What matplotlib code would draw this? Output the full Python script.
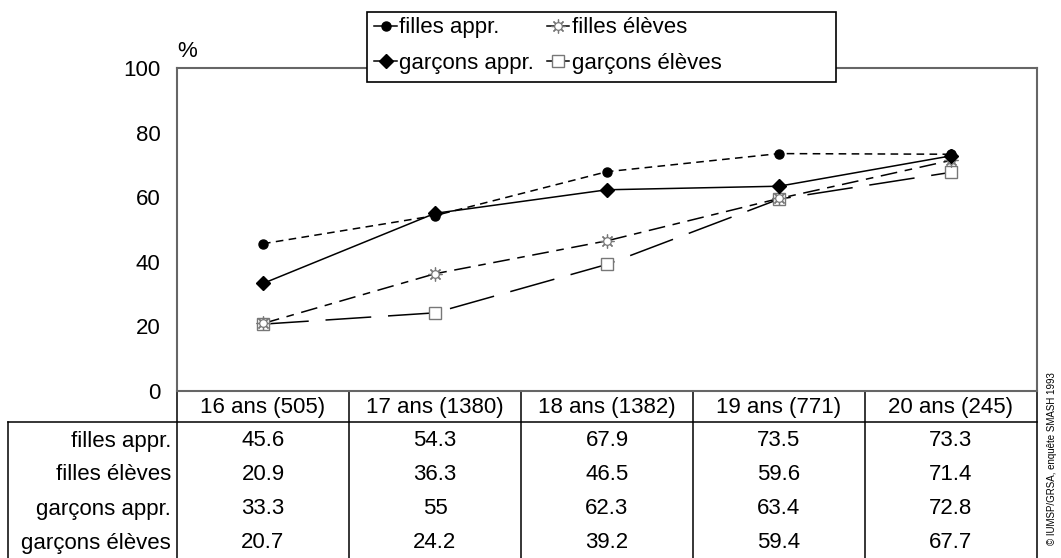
import matplotlib
matplotlib.use("Agg")
import matplotlib.pyplot as plt
from matplotlib.patches import Rectangle
from matplotlib.lines import Line2D
from matplotlib.legend_handler import HandlerTuple

plt.rcParams['font.family'] = ['Liberation Sans', 'DejaVu Sans']

# donnees
categories = ["16 ans (505)", "17 ans (1380)", "18 ans (1382)", "19 ans (771)", "20 ans (245)"]
filles_appr = [45.6, 54.3, 67.9, 73.5, 73.3]
filles_eleves = [20.9, 36.3, 46.5, 59.6, 71.4]
garcons_appr = [33.3, 55, 62.3, 63.4, 72.8]
garcons_eleves = [20.7, 24.2, 39.2, 59.4, 67.7]
noms = ["filles appr.", "filles élèves", "garçons appr.", "garçons élèves"]
yticks = [0, 20, 40, 60, 80, 100]
source = "© IUMSP/GRSA, enquête SMASH 1993"

W, H = 1061, 558
fig = plt.figure(figsize=(W / 100, H / 100), dpi=100)

# zone du graphique (pixels)
x0, x1, ytop, ybot = 177, 1037, 68, 391
ax = fig.add_axes([x0 / W, 1 - ybot / H, (x1 - x0) / W, (ybot - ytop) / H])
ax.set_xlim(-0.5, len(categories) - 0.5)
ax.set_ylim(0, 100)
ax.set_xticks([])
ax.set_yticks(yticks)
ax.set_yticklabels([str(v) for v in yticks], fontsize=16)
ax.tick_params(axis='y', length=0, pad=12)
for s in ax.spines.values():
    s.set_color('#666666')
    s.set_linewidth(1.5)
ax.text(0.0, 1.02, "%", transform=ax.transAxes, fontsize=16, ha='left', va='bottom')

xs = range(len(categories))
ax.plot(xs, filles_appr, color='black', lw=1.1, dashes=(5, 3.5),
        marker='o', ms=6.5, mfc='black', mec='black', zorder=5)
ax.plot(xs, garcons_appr, color='black', lw=1.1, ls='-',
        marker='D', ms=7.5, mfc='black', mec='black', zorder=5)
ax.plot(xs, filles_eleves, color='black', lw=1.1, dashes=(11, 5, 5, 5), zorder=3)
ax.plot(xs, filles_eleves, ls='none', marker=(8, 2, 0), ms=10,
        mec='#777777', mew=0.9, zorder=4)
ax.plot(xs, filles_eleves, ls='none', marker='o', ms=5.5,
        mfc='white', mec='#777777', mew=0.9, zorder=4)
ax.plot(xs, garcons_eleves, color='black', lw=1.1, dashes=(30, 11),
        marker='s', ms=8.5, mfc='white', mec='#777777', mew=1.0, zorder=3)

# legende
lx0, lx1, ly0, ly1 = 367, 836, 12, 82
fig.patches.append(Rectangle((lx0 / W, 1 - ly1 / H), (lx1 - lx0) / W, (ly1 - ly0) / H,
                             transform=fig.transFigure, facecolor='white',
                             edgecolor='black', lw=1.2, zorder=5))
l1 = Line2D([], [], color='black', lw=1.1, marker='o', ms=6.5)
l2 = Line2D([], [], color='black', lw=1.1, marker='D', ms=7.5)
l3a = Line2D([], [], color='black', lw=1.1)
l3b = Line2D([], [], ls='none', marker=(8, 2, 0), ms=10, mec='#777777', mew=0.9)
l3c = Line2D([], [], ls='none', marker='o', ms=5.5, mfc='white', mec='#777777', mew=0.9)
l4 = Line2D([], [], color='black', lw=1.1, marker='s', ms=8.5, mfc='white', mec='#777777')
leg = fig.legend([l1, l2, (l3a, l3b, l3c), l4],
                 [noms[0], noms[2], noms[1], noms[3]],
                 handler_map={tuple: HandlerTuple(ndivide=1, pad=0)},
                 ncol=2, loc='upper left', bbox_to_anchor=(370 / W, 1 - 13 / H),
                 frameon=False, fontsize=16, handlelength=1.0, handletextpad=0.1,
                 columnspacing=0.6, labelspacing=0.65, borderpad=0.2,
                 borderaxespad=0)
leg.set_zorder(6)

# tableau
at = fig.add_axes([0, 0, 1, 1], zorder=-1)
at.set_xlim(0, W)
at.set_ylim(H, 0)
at.axis('off')
edges = [x0 + i * (x1 - x0) / len(categories) for i in range(len(categories) + 1)]
lblx = 8
yhead, ybody = 422, 558
for e in edges:
    at.plot([e, e], [ybot, ybody + 5], color='black', lw=1.1)
at.plot([lblx, lblx], [yhead, ybody + 5], color='black', lw=1.1)
at.plot([lblx, x1], [yhead, yhead], color='black', lw=1.1)
for i, c in enumerate(categories):
    cx = (edges[i] + edges[i + 1]) / 2
    at.text(cx, (ybot + yhead) / 2 + 1, c, fontsize=16, ha='center', va='center')
series = [filles_appr, filles_eleves, garcons_appr, garcons_eleves]
for r, (nom, vals) in enumerate(zip(noms, series)):
    ry = 441 + 34 * r
    at.text(edges[0] - 6, ry, nom, fontsize=16, ha='right', va='center')
    for i, v in enumerate(vals):
        cx = (edges[i] + edges[i + 1]) / 2
        at.text(cx, ry, f"{v:g}", fontsize=16, ha='center', va='center')

fig.text(1052 / W, 1 - 372 / H, source, rotation=90, fontsize=7,
         ha='center', va='top')

fig.savefig("out.png", dpi=100)
